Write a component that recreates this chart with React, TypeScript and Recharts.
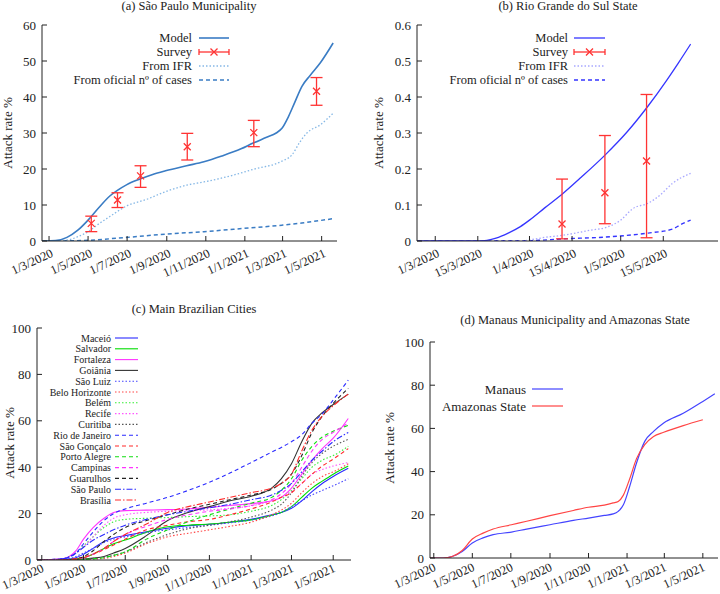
import React from "react";
import { ComposedChart, Line, Scatter, ErrorBar, XAxis, YAxis } from "recharts";

const FONT = '"Liberation Serif", "Times New Roman", "DejaVu Serif", serif';
const INK = "#222";
const RED = "#ff3333";

// shared month ticks (days since 1/3/2020)
const monthTicks = [0, 61, 122, 184, 245, 306, 365, 426];
const monthLabels = ["1/3/2020", "1/5/2020", "1/7/2020", "1/9/2020", "1/11/2020", "1/1/2021", "1/3/2021", "1/5/2021"];

// (a) São Paulo Municipality
const aModelDays = [-11, -6, 10, 28, 45, 61, 78, 95, 108, 121, 142, 162, 182, 215, 242, 270, 300, 319, 340, 355, 364, 374, 384, 395, 408, 424, 444];
const aModelVals = [0, 0, 0.1, 1, 3, 5.8, 9.3, 12.5, 14.2, 15.6, 17.2, 18.5, 19.5, 20.9, 22, 23.6, 25.6, 27.2, 28.8, 30, 31.3, 34.5, 38.5, 42.9, 46, 49.5, 55];
const aIfrDays = [-11, 10, 30, 45, 61, 78, 95, 121, 153, 182, 215, 242, 288, 319, 364, 380, 392, 403, 424, 444];
const aIfrVals = [0, 0, 0.3, 1.2, 2.6, 4.8, 6.8, 9.7, 11.6, 13.7, 15.5, 16.4, 18.3, 19.9, 22.2, 24, 27.5, 30, 32.3, 35.5];
const aCasesDays = [-11, 30, 61, 121, 182, 242, 304, 364, 395, 424, 444];
const aCasesVals = [0, 0.05, 0.2, 1.0, 1.9, 2.6, 3.5, 4.4, 5.0, 5.7, 6.2];
const aSurveyDays = [66, 107, 143, 216, 320, 418];
const aSurveyVals = [4.9, 11.4, 18.1, 26.2, 30.1, 41.6];
const aSurveyLow = [2.6, 9.3, 14.9, 22.5, 26.2, 37.7];
const aSurveyHigh = [6.9, 13.4, 20.9, 29.9, 33.5, 45.4];
const aYTicks = [0, 10, 20, 30, 40, 50, 60];

// (b) Rio Grande do Sul State
const bTicks = [0, 14, 31, 45, 61, 75];
const bLabels = ["1/3/2020", "15/3/2020", "1/4/2020", "15/4/2020", "1/5/2020", "15/5/2020"];
const bModelDays = [-6, 0, 10, 14, 17, 20, 24, 28, 31, 36, 42, 48, 56, 63, 70, 76, 80, 84];
const bModelVals = [0, 0, 0, 0, 0.002, 0.008, 0.022, 0.04, 0.058, 0.092, 0.132, 0.177, 0.24, 0.302, 0.375, 0.445, 0.495, 0.547];
const bIfrDays = [-6, 28, 31, 36, 42, 48, 51, 56, 61, 65, 70, 74, 78, 84];
const bIfrVals = [0, 0, 0.003, 0.01, 0.016, 0.025, 0.03, 0.037, 0.058, 0.09, 0.105, 0.128, 0.16, 0.188];
const bCasesDays = [-6, 31, 42, 56, 70, 78, 81, 84];
const bCasesVals = [0, 0.001, 0.006, 0.011, 0.022, 0.033, 0.047, 0.058];
const bSurveyDays = [41.7, 55.8, 69.5];
const bSurveyVals = [0.047, 0.134, 0.222];
const bSurveyLow = [0.006, 0.048, 0.009];
const bSurveyHigh = [0.172, 0.293, 0.407];
const bYTicks = [0, 0.1, 0.2, 0.3, 0.4, 0.5, 0.6];

// (c) Main Brazilian Cities
const cDays = [-7, 30, 50, 61, 75, 91, 105, 122, 153, 184, 214, 245, 275, 306, 336, 350, 365, 380, 395, 410, 426, 448];
const maceio = [0, 0.2, 1, 2.5, 5, 8, 9.5, 10.5, 12.2, 13.7, 14.8, 15.4, 16.3, 17.5, 19.5, 20.5, 22.3, 25.5, 29.5, 33, 36, 39.5];
const salvador = [0, 0, 0.5, 1, 2.5, 5, 7, 8.6, 12, 14.3, 15, 15.5, 16.3, 17.3, 19.3, 20.5, 23, 27, 31, 34, 37, 40.5];
const fortaleza = [0, 0.5, 4, 9, 14, 18, 20.5, 21.3, 21.5, 21.7, 22, 22.7, 23.5, 24.3, 25.5, 27, 31, 37, 43, 48, 52.5, 61];
const goiania = [0, 0, 0.2, 0.4, 0.8, 1.5, 3, 5, 10.5, 17, 20.5, 23, 25.5, 27.5, 31, 35, 41.5, 51, 59, 63.5, 67, 71.5];
const saoLuiz = [0, 0.3, 1.5, 3, 5, 7.5, 9, 10, 11.8, 13, 14, 15, 16, 17.2, 19, 20.5, 23, 25.5, 28, 30, 32, 35];
const beloHorizonte = [0, 0, 0, 0.2, 0.4, 0.7, 1.5, 3, 7, 10, 11.5, 13, 14.5, 16.3, 19.5, 21.5, 24.5, 29, 33, 36, 38, 41.5];
const belem = [0, 0.5, 3, 6, 10, 14, 16.5, 17.5, 18, 18.3, 18.7, 19, 19.5, 21, 23.5, 26, 30, 35, 40, 43, 45, 49];
const recife = [0, 0.5, 3, 5.5, 10, 15, 18, 19.5, 20.5, 21, 21.3, 21.6, 22.3, 23.3, 25.5, 27, 29.5, 33, 37, 39, 40.5, 42];
const curitiba = [0, 0, 0, 0.3, 0.7, 1.2, 2, 3.5, 7.5, 11, 13.5, 15, 16.5, 18.5, 21.5, 24, 29, 36, 42, 46, 49, 52];
const rio = [0, 0.5, 3, 7, 12, 17, 20, 22, 24.5, 27, 30, 33.5, 37.5, 42, 46.5, 48.5, 51, 54, 59, 63, 69, 77.5];
const saoGoncalo = [0, 0, 0.5, 1.2, 2.5, 4.5, 6.5, 9, 13, 15, 16.5, 17.5, 19.5, 22, 25, 27, 29, 33, 37, 40.5, 43.5, 48];
const portoAlegre = [0, 0, 0, 0.2, 0.5, 1, 2, 3.5, 9, 13, 16.5, 19.5, 22, 24.5, 27, 30, 35, 43, 49, 53, 55.5, 58];
const campinas = [0, 0, 0.5, 1, 2.5, 5, 8, 11, 14.5, 17.5, 19.5, 21, 22, 23.5, 26, 28.5, 33, 40, 47, 52, 55, 59];
const guarulhos = [0, 0, 0.5, 1.5, 4, 8, 11, 14, 17, 19.5, 22, 24, 26, 28, 30.5, 33, 37, 45, 55, 62, 67.5, 74];
const saoPaulo = [0, 0.5, 3, 5.5, 8.5, 11, 13, 15, 17.5, 19.5, 21, 22.5, 24, 26, 28, 30, 33, 38, 43, 47, 51, 55];
const brasilia = [0, 0, 0.5, 1, 2.5, 5, 8, 11, 15.5, 20.5, 23, 25, 27, 29, 31, 33, 37, 47, 56, 62, 66.5, 71.5];
const pctTicks = [0, 20, 40, 60, 80, 100];

// (d) Manaus Municipality and Amazonas State
const dDays = [-6, 15, 30, 45, 61, 78, 94, 123, 147, 184, 221, 245, 270, 284, 292, 300, 310, 321, 334, 348, 364, 395, 426, 445];
const manaus = [0, 0, 0.8, 3, 7, 9.3, 10.8, 12, 13.4, 15.4, 17.4, 18.5, 19.7, 20.4, 21.6, 24.5, 33, 44, 54, 58.6, 62.5, 67, 72.5, 76];
const amazonas = [0, 0, 0.8, 3.5, 8.8, 11.5, 13.4, 15.4, 17, 19.6, 22, 23.5, 24.5, 25.5, 26.2, 29, 36.5, 46, 52.5, 56.3, 58.2, 61.3, 64, null];

const DOT = "1.5 2";
const DASH = "4 3";
const DASHDOT = "6 2 1.5 2";

const cSeries = [
  { key: "maceio", name: "Maceió", vals: maceio, color: "#2a2aff", dash: undefined },
  { key: "salvador", name: "Salvador", vals: salvador, color: "#00dd00", dash: undefined },
  { key: "fortaleza", name: "Fortaleza", vals: fortaleza, color: "#ff33ff", dash: undefined },
  { key: "goiania", name: "Goiânia", vals: goiania, color: "#333333", dash: undefined },
  { key: "saoLuiz", name: "São Luiz", vals: saoLuiz, color: "#4444ff", dash: DOT },
  { key: "beloHorizonte", name: "Belo Horizonte", vals: beloHorizonte, color: "#ff4444", dash: DOT },
  { key: "belem", name: "Belém", vals: belem, color: "#33ee33", dash: DOT },
  { key: "recife", name: "Recife", vals: recife, color: "#ff55ff", dash: DOT },
  { key: "curitiba", name: "Curitiba", vals: curitiba, color: "#555555", dash: DOT },
  { key: "rio", name: "Rio de Janeiro", vals: rio, color: "#2a2aff", dash: DASH },
  { key: "saoGoncalo", name: "São Gonçalo", vals: saoGoncalo, color: "#ff2a2a", dash: DASH },
  { key: "portoAlegre", name: "Porto Alegre", vals: portoAlegre, color: "#11dd11", dash: DASH },
  { key: "campinas", name: "Campinas", vals: campinas, color: "#ff33ff", dash: DASH },
  { key: "guarulhos", name: "Guarulhos", vals: guarulhos, color: "#222222", dash: DASH },
  { key: "saoPaulo", name: "São Paulo", vals: saoPaulo, color: "#2a2aff", dash: DASHDOT },
  { key: "brasilia", name: "Brasília", vals: brasilia, color: "#ff2a2a", dash: DASHDOT },
];

const pts = (days: number[], vals: (number | null)[]) => days.map((d, i) => ({ d, v: vals[i] }));
const survey = (days: number[], vals: number[], lo: number[], hi: number[]) =>
  days.map((d, i) => ({ d, v: vals[i], err: [vals[i] - lo[i], hi[i] - vals[i]] }));

const cTable = cDays.map((d, i) => {
  const row: any = { d };
  cSeries.forEach((s) => (row[s.key] = s.vals[i]));
  return row;
});
const dTable = dDays.map((d, i) => ({ d, manaus: manaus[i], amazonas: amazonas[i] }));

const BottomTick = (p: any) => {
  const { x, y, payload, labels, ticks, off } = p;
  const label = labels[ticks.indexOf(payload.value)];
  const tx = x + off[0];
  const ty = y + off[1];
  return (
    <g>
      <line x1={x} y1={y} x2={x} y2={y - 5} stroke={INK} />
      <text x={tx} y={ty} textAnchor="end" fontSize={12.5} style={{ fontFamily: FONT }} fill={INK} transform={`rotate(-25 ${tx} ${ty})`}>
        {label}
      </text>
    </g>
  );
};

const TopTick = (p: any) => <line x1={p.x} y1={p.y} x2={p.x} y2={p.y + 5} stroke={INK} />;
const RightTick = (p: any) => <line x1={p.x} y1={p.y} x2={p.x - 5} y2={p.y} stroke={INK} />;
const LeftTick = (p: any) => (
  <g>
    <line x1={p.x} y1={p.y} x2={p.x + 5} y2={p.y} stroke={INK} />
    <text x={p.x - 6} y={p.y} dy="0.35em" textAnchor="end" fontSize={13} style={{ fontFamily: FONT }} fill={INK}>
      {String(p.payload.value)}
    </text>
  </g>
);

// box axes: labelled bottom/left, mirrored tick marks on top/right
function frame(xDomain: number[], xTicks: number[], xLabels: string[], yDomain: number[], yTicks: number[], xh: number, yw: number, off: number[]) {
  return [
    <XAxis key="xb" dataKey="d" type="number" domain={xDomain} ticks={xTicks} allowDataOverflow interval={0}
      height={xh} tickSize={0} tickMargin={0} stroke={INK}
      tick={(p: any) => <BottomTick {...p} labels={xLabels} ticks={xTicks} off={off} />} />,
    <XAxis key="xt" xAxisId="top" orientation="top" dataKey="d" type="number" domain={xDomain} ticks={xTicks}
      allowDataOverflow interval={0} height={0} tickSize={0} tickMargin={0} stroke={INK} tick={TopTick} />,
    <YAxis key="yl" type="number" domain={yDomain} ticks={yTicks} allowDataOverflow interval={0}
      width={yw} tickSize={0} tickMargin={0} stroke={INK} tick={LeftTick} />,
    <YAxis key="yr" yAxisId="right" orientation="right" type="number" domain={yDomain} ticks={yTicks}
      allowDataOverflow interval={0} width={0} tickSize={0} tickMargin={0} stroke={INK} tick={RightTick} />,
  ];
}

const XMark = (p: any) => {
  const { cx, cy } = p;
  if (cx == null || cy == null) return <g />;
  return <path d={`M${cx - 3.5},${cy - 3.5}L${cx + 3.5},${cy + 3.5}M${cx - 3.5},${cy + 3.5}L${cx + 3.5},${cy - 3.5}`} stroke={RED} strokeWidth={1.3} />;
};

type Row = { label: string; color: string; dash?: string; w?: number; survey?: boolean };

function LegendBlock({ rows, right, x1, x2, top, step, size }: { rows: Row[]; right: number; x1: number; x2: number; top: number; step: number; size: number }) {
  return (
    <g>
      {rows.map((r, i) => {
        const y = top + i * step;
        return (
          <g key={i}>
            <text x={right} y={y} dy="0.35em" textAnchor="end" fontSize={size} style={{ fontFamily: FONT }} fill={INK}>
              {r.label}
            </text>
            {r.survey ? (
              <g stroke={RED} strokeWidth={1.3}>
                <line x1={x1} x2={x2} y1={y} y2={y} />
                <line x1={x1} x2={x1} y1={y - 3} y2={y + 3} />
                <line x1={x2} x2={x2} y1={y - 3} y2={y + 3} />
                <path d={`M${(x1 + x2) / 2 - 3.5},${y - 3.5}l7,7M${(x1 + x2) / 2 - 3.5},${y + 3.5}l7,-7`} />
              </g>
            ) : (
              <line x1={x1} x2={x2} y1={y} y2={y} stroke={r.color} strokeDasharray={r.dash} strokeWidth={r.w ?? 1.3} />
            )}
          </g>
        );
      })}
    </g>
  );
}

const officialLabel = "From oficial nº of cases";

const A_BLUE = "#3a7cc4";
const B_BLUE = "#3535ff";
const textStyle = { fontFamily: FONT };

export default function App() {
  const aSurvey = survey(aSurveyDays, aSurveyVals, aSurveyLow, aSurveyHigh);
  const bSurvey = survey(bSurveyDays, bSurveyVals, bSurveyLow, bSurveyHigh);

  return (
    <div style={{ position: "absolute", left: 0, top: 0, width: 720, height: 594, background: "#fff", fontFamily: FONT }}>
      <div style={{ position: "absolute", left: 0, top: 0 }}>
        <ComposedChart width={360} height={290} margin={{ top: 25, right: 23, bottom: 0, left: 0 }}>
          {frame([-11, 450], monthTicks, monthLabels, [0, 60], aYTicks, 49, 42, [5, 15])}
          <Line data={pts(aCasesDays, aCasesVals)} dataKey="v" type="monotone" stroke={A_BLUE} strokeWidth={1.5} strokeDasharray={DASH} dot={false} isAnimationActive={false} />
          <Line data={pts(aIfrDays, aIfrVals)} dataKey="v" type="monotone" stroke="#86b8e6" strokeWidth={1.3} strokeDasharray={DOT} dot={false} isAnimationActive={false} />
          <Line data={pts(aModelDays, aModelVals)} dataKey="v" type="monotone" stroke={A_BLUE} strokeWidth={1.6} dot={false} isAnimationActive={false} />
          <Scatter data={aSurvey} dataKey="v" shape={XMark} isAnimationActive={false}>
            <ErrorBar dataKey="err" direction="y" width={6} stroke={RED} strokeWidth={1.3} isAnimationActive={false} />
          </Scatter>
        </ComposedChart>
      </div>

      <div style={{ position: "absolute", left: 360, top: 0 }}>
        <ComposedChart width={360} height={290} margin={{ top: 25, right: 2, bottom: 0, left: 0 }}>
          {frame([-6, 93], bTicks, bLabels, [0, 0.6], bYTicks, 49, 57, [5, 15])}
          <Line data={pts(bCasesDays, bCasesVals)} dataKey="v" type="monotone" stroke={B_BLUE} strokeWidth={1.4} strokeDasharray={DASH} dot={false} isAnimationActive={false} />
          <Line data={pts(bIfrDays, bIfrVals)} dataKey="v" type="monotone" stroke="#a8a8ff" strokeWidth={1.3} strokeDasharray={DOT} dot={false} isAnimationActive={false} />
          <Line data={pts(bModelDays, bModelVals)} dataKey="v" type="monotone" stroke={B_BLUE} strokeWidth={1.3} dot={false} isAnimationActive={false} />
          <Scatter data={bSurvey} dataKey="v" shape={XMark} isAnimationActive={false}>
            <ErrorBar dataKey="err" direction="y" width={6} stroke={RED} strokeWidth={1.3} isAnimationActive={false} />
          </Scatter>
        </ComposedChart>
      </div>

      <div style={{ position: "absolute", left: 0, top: 290 }}>
        <ComposedChart width={360} height={304} data={cTable} margin={{ top: 38, right: 9, bottom: 0, left: 0 }}>
          {frame([-7, 452], monthTicks, monthLabels, [0, 100], pctTicks, 34, 37, [3, 11])}
          {cSeries.map((s) => (
            <Line key={s.key} dataKey={s.key} type="monotone" stroke={s.color} strokeWidth={1.1} strokeDasharray={s.dash} dot={false} isAnimationActive={false} />
          ))}
        </ComposedChart>
      </div>

      <div style={{ position: "absolute", left: 360, top: 290 }}>
        <ComposedChart width={360} height={304} data={dTable} margin={{ top: 52, right: 2, bottom: 0, left: 0 }}>
          {frame([-6, 450], monthTicks, monthLabels, [0, 100], pctTicks, 36, 70, [3, 12])}
          <Line dataKey="manaus" type="monotone" stroke="#4444ff" strokeWidth={1.2} dot={false} isAnimationActive={false} />
          <Line dataKey="amazonas" type="monotone" stroke="#ff4444" strokeWidth={1.2} dot={false} isAnimationActive={false} />
        </ComposedChart>
      </div>

      {/* titles, axis names and legends */}
      <svg width={720} height={594} style={{ position: "absolute", left: 0, top: 0, pointerEvents: "none" }}>
        <g fill={INK} style={textStyle}>
          <text x={189} y={10} textAnchor="middle" fontSize={12.5}>(a) São Paulo Municipality</text>
          <text x={568} y={10} textAnchor="middle" fontSize={12.5}>(b) Rio Grande do Sul State</text>
          <text x={194} y={313} textAnchor="middle" fontSize={12.5}>(c) Main Brazilian Cities</text>
          <text x={575} y={324} textAnchor="middle" fontSize={12.5}>(d) Manaus Municipality and Amazonas State</text>
          <text transform="translate(7,133) rotate(-90)" textAnchor="middle" dy="0.35em" fontSize={13}>Attack rate %</text>
          <text transform="translate(378,133) rotate(-90)" textAnchor="middle" dy="0.35em" fontSize={13}>Attack rate %</text>
          <text transform="translate(9,443) rotate(-90)" textAnchor="middle" dy="0.35em" fontSize={13}>Attack rate %</text>
          <text transform="translate(389,448) rotate(-90)" textAnchor="middle" dy="0.35em" fontSize={13}>Attack rate %</text>
        </g>
        <LegendBlock right={192} x1={199} x2={229} top={38} step={14} size={12.5}
          rows={[
            { label: "Model", color: A_BLUE, w: 1.6 },
            { label: "Survey", color: RED, survey: true },
            { label: "From IFR", color: "#86b8e6", dash: DOT },
            { label: officialLabel, color: A_BLUE, dash: DASH, w: 1.5 },
          ]} />
        <LegendBlock right={568} x1={574} x2={605} top={38} step={14} size={12.5}
          rows={[
            { label: "Model", color: B_BLUE },
            { label: "Survey", color: RED, survey: true },
            { label: "From IFR", color: "#a8a8ff", dash: DOT },
            { label: officialLabel, color: B_BLUE, dash: DASH, w: 1.4 },
          ]} />
        <LegendBlock right={111} x1={115} x2={138} top={338} step={10.8} size={10}
          rows={cSeries.map((s) => ({ label: s.name, color: s.color, dash: s.dash, w: 1.1 }))} />
        <LegendBlock right={526} x1={532} x2={563} top={389} step={17} size={13}
          rows={[
            { label: "Manaus", color: "#4444ff", w: 1.2 },
            { label: "Amazonas State", color: "#ff4444", w: 1.2 },
          ]} />
      </svg>
    </div>
  );
}
